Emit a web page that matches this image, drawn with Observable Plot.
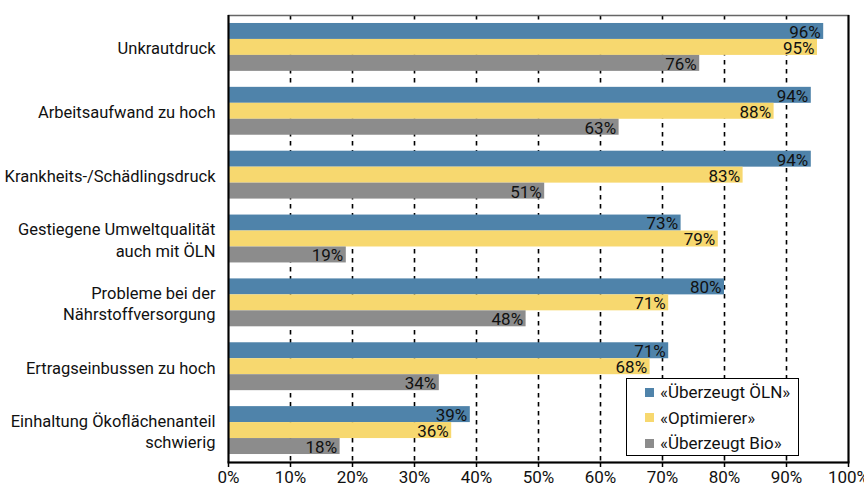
<!DOCTYPE html>
<html>
<head>
<meta charset="utf-8">
<script src="https://cdn.jsdelivr.net/npm/d3@7"></script>
<script src="https://cdn.jsdelivr.net/npm/@observablehq/plot@0.6"></script>
<style>
  html, body { margin: 0; padding: 0; background: #fff; }
  #wrap { position: relative; width: 864px; height: 490px; font-family: Roboto, "Liberation Sans", sans-serif; }
  #legend {
    position: absolute; left: 626px; top: 378px; width: 171px; height: 76px;
    border: 1.5px solid #000; background: #fff; font-size: 17px; color: #111;
  }
  #legend .row { position: absolute; left: 18px; display: flex; align-items: center; height: 20px; }
  #legend .sw { width: 9px; height: 9px; margin-right: 6px; }
</style>
</head>
<body>
<div id="wrap"><div id="legend"></div></div>
<script>
const categories = [
  "Unkrautdruck",
  "Arbeitsaufwand zu hoch",
  "Krankheits-/Schädlingsdruck",
  "Gestiegene Umweltqualität\nauch mit ÖLN",
  "Probleme bei der\nNährstoffversorgung",
  "Ertragseinbussen zu hoch",
  "Einhaltung Ökoflächenanteil\nschwierig"
];
const seriesNames = ["«Überzeugt ÖLN»", "«Optimierer»", "«Überzeugt Bio»"];
const seriesColors = ["#4f83aa", "#f7d86f", "#8c8c8c"];
const ueberzeugtOLN = [96, 94, 94, 73, 80, 71, 39];
const optimierer   = [95, 88, 83, 79, 71, 68, 36];
const ueberzeugtBio = [76, 63, 51, 19, 48, 34, 18];
const xTicks = [0, 10, 20, 30, 40, 50, 60, 70, 80, 90, 100];

const seriesValues = [ueberzeugtOLN, optimierer, ueberzeugtBio];
const data = [];
categories.forEach((c, i) => {
  seriesValues.forEach((vals, j) => {
    data.push({category: c, ci: i, series: seriesNames[j], sj: j, value: vals[i], key: `${i}-${j}`});
  });
});
const yDomain = [];
categories.forEach((c, i) => {
  seriesNames.forEach((s, j) => yDomain.push(`${i}-${j}`));
  if (i < categories.length - 1) yDomain.push(`gap${i}`);
});

const chart = Plot.plot({
  width: 864,
  height: 490,
  marginLeft: 228,
  marginRight: 16,
  marginTop: 15,
  marginBottom: 28,
  style: {fontFamily: "Roboto, 'Liberation Sans', sans-serif", fontSize: "17px", color: "#111", overflow: "visible"},
  x: {domain: [0, 100], axis: null, label: null},
  y: {domain: yDomain, type: "band", paddingInner: 0, paddingOuter: 0.5, round: false, axis: null, label: null},
  color: {domain: seriesNames, range: seriesColors},
  marks: [
    Plot.gridX(xTicks.slice(1, -1), {stroke: "#000", strokeOpacity: 1, strokeWidth: 1.6, strokeDasharray: "4.5,4.5"}),
    Plot.barX(data, {x: "value", y: "key", fill: "series"}),
    Plot.text(data, {x: "value", y: "key", text: d => d.value + "%", textAnchor: "end", dx: -3, dy: 1, fill: "#111", fontSize: 17}),
    Plot.text(categories, {y: (d, i) => `${i}-1`, text: d => d, frameAnchor: "left", textAnchor: "end", dx: -13, lineHeight: 1.3, fontSize: 16.5, fill: "#111"}),
    Plot.frame({stroke: "#666", strokeWidth: 1.5}),
    Plot.ruleX([0, 100], {stroke: "#000", strokeWidth: 2}),
    Plot.frame({anchor: "bottom", stroke: "#000", strokeWidth: 2}),
    Plot.axisX({ticks: xTicks, tickFormat: d => d + "%", tickSize: 5, tickPadding: 3, fontSize: 17, stroke: "#000", strokeWidth: 1.5, fill: "#111", label: null})
  ]
});
const wrap = document.getElementById("wrap");
wrap.insertBefore(chart, wrap.firstChild);

const legend = document.getElementById("legend");
seriesNames.forEach((s, j) => {
  const row = document.createElement("div");
  row.className = "row";
  row.style.top = (3 + j * 25.5) + "px";
  const sw = document.createElement("div");
  sw.className = "sw";
  sw.style.background = seriesColors[j];
  const t = document.createElement("span");
  t.textContent = s;
  row.appendChild(sw);
  row.appendChild(t);
  legend.appendChild(row);
});
</script>
</body>
</html>
